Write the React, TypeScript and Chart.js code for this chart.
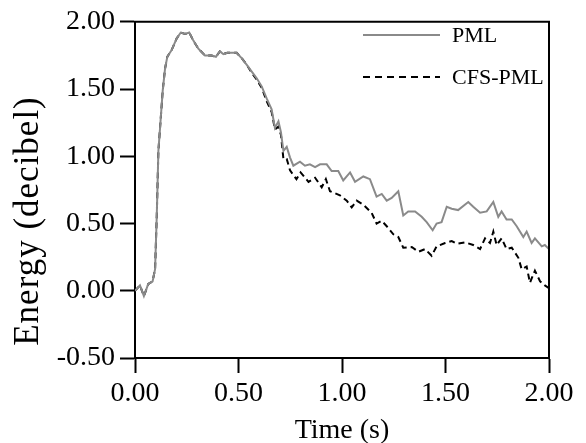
import React, { useEffect, useRef } from "react";
import { Chart, registerables } from "chart.js";

Chart.register(...registerables);

const xTicks = [0, 0.5, 1.0, 1.5, 2.0];
const yTicks = [-0.5, 0, 0.5, 1.0, 1.5, 2.0];

const pmlTime = [
  0.0, 0.024, 0.043, 0.064, 0.085, 0.097, 0.105, 0.113, 0.121, 0.134, 0.145, 0.156, 0.177, 0.201, 0.221,
  0.242, 0.262, 0.282, 0.306, 0.338, 0.37, 0.391, 0.41, 0.427, 0.446, 0.491, 0.515, 0.54, 0.564, 0.588,
  0.612, 0.636, 0.66, 0.676, 0.693, 0.705, 0.717, 0.733, 0.749, 0.765, 0.797, 0.821, 0.845, 0.87, 0.894,
  0.926, 0.95, 0.982, 1.006, 1.039, 1.063, 1.103, 1.135, 1.167, 1.192, 1.216, 1.24, 1.272, 1.296, 1.32,
  1.353, 1.385, 1.409, 1.438, 1.457, 1.481, 1.506, 1.53, 1.561, 1.61, 1.634, 1.667, 1.699, 1.731, 1.755,
  1.771, 1.795, 1.82, 1.844, 1.876, 1.892, 1.916, 1.932, 1.965, 1.98, 2.0,
];
const pmlEnergy = [
  0.0, 0.04, -0.04, 0.05, 0.07, 0.16, 0.55, 1.04, 1.21, 1.49, 1.65, 1.74, 1.79, 1.875, 1.92,
  1.91, 1.92, 1.86, 1.8, 1.75, 1.75, 1.74, 1.78, 1.76, 1.77, 1.77, 1.73, 1.68, 1.63, 1.58,
  1.52, 1.43, 1.35, 1.21, 1.26, 1.18, 1.04, 1.07, 0.99, 0.93, 0.96, 0.93, 0.94, 0.92, 0.94,
  0.94, 0.89, 0.89, 0.82, 0.88, 0.81, 0.85, 0.83, 0.7, 0.72, 0.67, 0.69, 0.74, 0.56, 0.59,
  0.59, 0.55, 0.51, 0.45, 0.5, 0.51, 0.625, 0.61, 0.6, 0.66, 0.625, 0.58, 0.59, 0.66, 0.55,
  0.59, 0.53, 0.53, 0.48, 0.4, 0.44, 0.355, 0.39, 0.33, 0.34, 0.31,
];

const cfsTime = [
  0.0, 0.024, 0.043, 0.064, 0.085, 0.097, 0.105, 0.113, 0.121, 0.134, 0.145, 0.156, 0.177, 0.201, 0.221,
  0.242, 0.262, 0.282, 0.306, 0.338, 0.37, 0.391, 0.41, 0.427, 0.446, 0.491, 0.515, 0.54, 0.564, 0.588,
  0.612, 0.636, 0.66, 0.676, 0.693, 0.705, 0.717, 0.733, 0.749, 0.78, 0.8, 0.838, 0.87, 0.902, 0.922,
  0.942, 0.99, 1.023, 1.047, 1.071, 1.103, 1.143, 1.167, 1.192, 1.216, 1.248, 1.272, 1.296, 1.337, 1.369,
  1.401, 1.433, 1.457, 1.498, 1.53, 1.554, 1.594, 1.634, 1.667, 1.691, 1.715, 1.731, 1.747, 1.771, 1.795,
  1.82, 1.852, 1.868, 1.892, 1.908, 1.932, 1.957, 1.98, 2.0,
];
const cfsEnergy = [
  0.0, 0.04, -0.04, 0.05, 0.07, 0.16, 0.55, 1.04, 1.21, 1.49, 1.65, 1.74, 1.79, 1.875, 1.92,
  1.91, 1.92, 1.86, 1.8, 1.75, 1.75, 1.74, 1.78, 1.76, 1.77, 1.77, 1.73, 1.68, 1.62, 1.57,
  1.51, 1.41, 1.33, 1.2, 1.22, 1.16, 0.98, 0.98, 0.895, 0.83, 0.88, 0.81, 0.84, 0.77, 0.83,
  0.74, 0.71, 0.67, 0.62, 0.67, 0.64, 0.58, 0.5, 0.52, 0.48, 0.42, 0.4, 0.32, 0.325, 0.29,
  0.31, 0.26, 0.33, 0.355, 0.37, 0.35, 0.36, 0.34, 0.31, 0.39, 0.355, 0.44, 0.34, 0.39, 0.31,
  0.32, 0.245, 0.16, 0.18, 0.06, 0.15, 0.07, 0.04, 0.02,
];

const seriesNames = ["PML", "CFS-PML"];
const xTitle = "Time (s)";
const yTitle = "Energy (decibel)";

const SERIF = "'Liberation Serif', 'Times New Roman', serif";
const GRAY = "#8a8a8a";

export default function App() {
  const ref = useRef<HTMLCanvasElement | null>(null);

  useEffect(() => {
    if (!ref.current) return;

    const framePlugin = {
      id: "frameAndText",
      afterDraw(chart: any) {
        const { ctx, chartArea: a } = chart;
        ctx.save();
        // top and right frame
        ctx.strokeStyle = "#000";
        ctx.lineWidth = 2;
        ctx.beginPath();
        ctx.moveTo(a.left - 1, a.top);
        ctx.lineTo(a.right, a.top);
        ctx.lineTo(a.right, a.bottom);
        ctx.stroke();

        // legend
        const lx0 = 363, lx1 = 440, tx = 452;
        const rows = [
          { y: 35, color: GRAY, dash: [] as number[] },
          { y: 77, color: "#000", dash: [7, 5] },
        ];
        ctx.font = `22px ${SERIF}`;
        ctx.textAlign = "left";
        ctx.textBaseline = "middle";
        rows.forEach((r, i) => {
          ctx.strokeStyle = r.color;
          ctx.lineWidth = 2;
          ctx.setLineDash(r.dash);
          ctx.beginPath();
          ctx.moveTo(lx0, r.y);
          ctx.lineTo(lx1, r.y);
          ctx.stroke();
          ctx.setLineDash([]);
          ctx.fillStyle = "#000";
          ctx.fillText(seriesNames[i], tx, r.y + 1);
        });

        // x title
        ctx.font = `28px ${SERIF}`;
        ctx.textAlign = "center";
        ctx.textBaseline = "alphabetic";
        ctx.fillText(xTitle, (a.left + a.right) / 2, 438);

        // y title
        ctx.translate(29, 221);
        ctx.rotate(-Math.PI / 2);
        ctx.font = `35px ${SERIF}`;
        try {
          (ctx as any).letterSpacing = "1px";
        } catch (e) {}
        ctx.textAlign = "center";
        ctx.textBaseline = "middle";
        ctx.fillText(yTitle, 0, 0);
        ctx.restore();
      },
    };

    const chart = new Chart(ref.current, {
      type: "line",
      data: {
        datasets: [
          {
            label: seriesNames[0],
            data: pmlTime.map((t, i) => ({ x: t, y: pmlEnergy[i] })),
            borderColor: GRAY,
            borderWidth: 2,
            pointRadius: 0,
            tension: 0,
            fill: false,
          },
          {
            label: seriesNames[1],
            data: cfsTime.map((t, i) => ({ x: t, y: cfsEnergy[i] })),
            borderColor: "#000",
            borderWidth: 2,
            borderDash: [6, 4],
            pointRadius: 0,
            tension: 0,
            fill: false,
          },
        ],
      },
      options: {
        animation: false,
        responsive: false,
        maintainAspectRatio: false,
        devicePixelRatio: 1,
        layout: { padding: { top: 18, right: 37, left: 0, bottom: 0 } },
        plugins: {
          legend: { display: false },
          tooltip: { enabled: false },
          title: { display: false },
        },
        scales: {
          x: {
            type: "linear",
            min: 0,
            max: 2,
            afterBuildTicks: (s: any) => {
              s.ticks = xTicks.map((v) => ({ value: v }));
            },
            afterFit: (s: any) => {
              s.height = 85;
            },
            ticks: {
              color: "#000",
              font: { family: SERIF, size: 28 },
              padding: 4,
              maxRotation: 0,
              autoSkip: false,
              callback: (v: any) => Number(v).toFixed(2),
            },
            grid: {
              drawOnChartArea: false,
              drawTicks: true,
              tickLength: 15,
              tickWidth: 2,
              color: "#000",
            },
            border: { display: true, color: "#000", width: 2 },
          },
          y: {
            type: "linear",
            min: -0.5,
            max: 2,
            afterBuildTicks: (s: any) => {
              s.ticks = yTicks.map((v) => ({ value: v }));
            },
            afterFit: (s: any) => {
              s.width = 135;
            },
            ticks: {
              color: "#000",
              font: { family: SERIF, size: 28 },
              padding: 5,
              autoSkip: false,
              callback: (v: any) => Number(v).toFixed(2),
            },
            grid: {
              drawOnChartArea: false,
              drawTicks: true,
              tickLength: 15,
              tickWidth: 2,
              color: "#000",
            },
            border: { display: true, color: "#000", width: 2 },
          },
        },
      },
      plugins: [framePlugin],
    });

    return () => chart.destroy();
  }, []);

  return (
    <div style={{ position: "fixed", left: 0, top: 0, width: 586, height: 443, background: "#fff" }}>
      <canvas ref={ref} width={586} height={443} style={{ display: "block", width: 586, height: 443 }} />
    </div>
  );
}
